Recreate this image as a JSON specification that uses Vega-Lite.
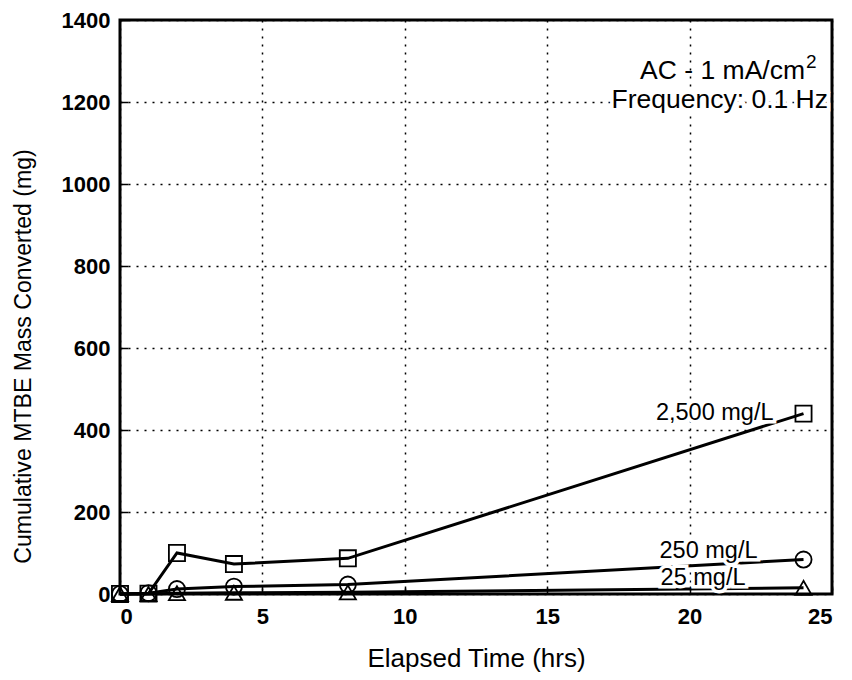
{
  "$schema": "https://vega.github.io/schema/vega-lite/v6.json",
  "width": 712,
  "height": 574,
  "autosize": "none",
  "padding": {"left": 120, "top": 20, "right": 20, "bottom": 86},
  "background": "white",
  "config": {
    "font": "Liberation Sans",
    "view": {"stroke": "black", "strokeWidth": 3},
    "axis": {
      "labelFont": "Liberation Sans",
      "titleFont": "Liberation Sans",
      "labelFontSize": 22,
      "labelFontWeight": "bold",
      "labelColor": "black",
      "titleFontWeight": "normal",
      "titleColor": "black",
      "domain": false,
      "tickColor": "black",
      "tickSize": -8,
      "tickWidth": 1.5,
      "gridColor": "black",
      "gridDash": [2, 6],
      "gridWidth": 1.5,
      "gridOpacity": 1
    }
  },
  "data": {
    "values": [
      {"t": 0, "mass": 0, "series": "2,500 mg/L"},
      {"t": 1, "mass": 1, "series": "2,500 mg/L"},
      {"t": 2, "mass": 100, "series": "2,500 mg/L"},
      {"t": 4, "mass": 73, "series": "2,500 mg/L"},
      {"t": 8, "mass": 87, "series": "2,500 mg/L"},
      {"t": 24, "mass": 440, "series": "2,500 mg/L"},
      {"t": 0, "mass": 0, "series": "250 mg/L"},
      {"t": 1, "mass": 2, "series": "250 mg/L"},
      {"t": 2, "mass": 12, "series": "250 mg/L"},
      {"t": 4, "mass": 18, "series": "250 mg/L"},
      {"t": 8, "mass": 23, "series": "250 mg/L"},
      {"t": 24, "mass": 84, "series": "250 mg/L"},
      {"t": 0, "mass": 0, "series": "25 mg/L"},
      {"t": 1, "mass": 0, "series": "25 mg/L"},
      {"t": 2, "mass": 2, "series": "25 mg/L"},
      {"t": 4, "mass": 3, "series": "25 mg/L"},
      {"t": 8, "mass": 4, "series": "25 mg/L"},
      {"t": 24, "mass": 15, "series": "25 mg/L"}
    ]
  },
  "encoding": {
    "x": {
      "field": "t", "type": "quantitative",
      "scale": {"domain": [0, 25], "nice": false},
      "axis": {"values": [0, 5, 10, 15, 20, 25], "format": "d", "title": "Elapsed Time (hrs)", "titleFontSize": 26, "labelPadding": 20, "titlePadding": 18}
    },
    "y": {
      "field": "mass", "type": "quantitative",
      "scale": {"domain": [0, 1400], "nice": false},
      "axis": {"values": [0, 200, 400, 600, 800, 1000, 1200, 1400], "format": "d", "title": "Cumulative MTBE Mass Converted (mg)", "titleFontSize": 23.1, "titleY": 336, "titleX": -97, "titleBaseline": "middle", "labelPadding": 18}
    }
  },
  "layer": [
    {
      "mark": {"type": "line", "color": "black", "strokeWidth": 3},
      "encoding": {"detail": {"field": "series", "type": "nominal"}}
    },
    {
      "mark": {"type": "point", "filled": false, "color": "black", "strokeWidth": 1.8, "size": 260, "opacity": 1},
      "encoding": {
        "shape": {
          "field": "series", "type": "nominal",
          "scale": {"domain": ["2,500 mg/L", "250 mg/L", "25 mg/L"], "range": ["square", "circle", "triangle-up"]},
          "legend": null
        }
      }
    },
    {
      "transform": [{"filter": "datum.t == 24 && datum.series == '2,500 mg/L'"}],
      "mark": {"type": "text", "align": "right", "baseline": "middle", "fontSize": 23.5, "dx": -30, "dy": -1, "color": "white", "stroke": "white", "strokeWidth": 7},
      "encoding": {"text": {"field": "series", "type": "nominal"}}
    },
    {
      "transform": [{"filter": "datum.t == 24 && datum.series == '2,500 mg/L'"}],
      "mark": {"type": "text", "align": "right", "baseline": "middle", "fontSize": 23.5, "dx": -30, "dy": -1, "color": "black"},
      "encoding": {"text": {"field": "series", "type": "nominal"}}
    },
    {
      "transform": [{"filter": "datum.t == 24 && datum.series == '250 mg/L'"}],
      "mark": {"type": "text", "align": "right", "baseline": "middle", "fontSize": 23.5, "dx": -46, "dy": -9, "color": "white", "stroke": "white", "strokeWidth": 7},
      "encoding": {"text": {"field": "series", "type": "nominal"}}
    },
    {
      "transform": [{"filter": "datum.t == 24 && datum.series == '250 mg/L'"}],
      "mark": {"type": "text", "align": "right", "baseline": "middle", "fontSize": 23.5, "dx": -46, "dy": -9, "color": "black"},
      "encoding": {"text": {"field": "series", "type": "nominal"}}
    },
    {
      "transform": [{"filter": "datum.t == 24 && datum.series == '25 mg/L'"}],
      "mark": {"type": "text", "align": "right", "baseline": "middle", "fontSize": 23.5, "dx": -58, "dy": -10, "color": "white", "stroke": "white", "strokeWidth": 7},
      "encoding": {"text": {"field": "series", "type": "nominal"}}
    },
    {
      "transform": [{"filter": "datum.t == 24 && datum.series == '25 mg/L'"}],
      "mark": {"type": "text", "align": "right", "baseline": "middle", "fontSize": 23.5, "dx": -58, "dy": -10, "color": "black"},
      "encoding": {"text": {"field": "series", "type": "nominal"}}
    },
    {
      "transform": [{"filter": "datum.t == 24 && datum.series == '25 mg/L'"}],
      "mark": {"type": "text", "align": "right", "baseline": "alphabetic", "fontSize": 26.5, "color": "white", "stroke": "white", "strokeWidth": 7, "dx": -4},
      "encoding": {
        "x": {"datum": 25},
        "y": {"datum": 1185},
        "text": {"value": "Frequency: 0.1 Hz"}
      }
    },
    {
      "transform": [{"filter": "datum.t == 24 && datum.series == '25 mg/L'"}],
      "mark": {"type": "text", "align": "right", "baseline": "alphabetic", "fontSize": 26.5, "color": "black", "dx": -27},
      "encoding": {
        "x": {"datum": 25},
        "y": {"datum": 1256},
        "text": {"value": "AC - 1 mA/cm"}
      }
    },
    {
      "transform": [{"filter": "datum.t == 24 && datum.series == '25 mg/L'"}],
      "mark": {"type": "text", "align": "left", "baseline": "alphabetic", "fontSize": 19, "color": "black", "dx": -26, "dy": -11},
      "encoding": {
        "x": {"datum": 25},
        "y": {"datum": 1256},
        "text": {"value": "2"}
      }
    },
    {
      "transform": [{"filter": "datum.t == 24 && datum.series == '25 mg/L'"}],
      "mark": {"type": "text", "align": "right", "baseline": "alphabetic", "fontSize": 26.5, "color": "black", "dx": -4},
      "encoding": {
        "x": {"datum": 25},
        "y": {"datum": 1185},
        "text": {"value": "Frequency: 0.1 Hz"}
      }
    }
  ]
}
